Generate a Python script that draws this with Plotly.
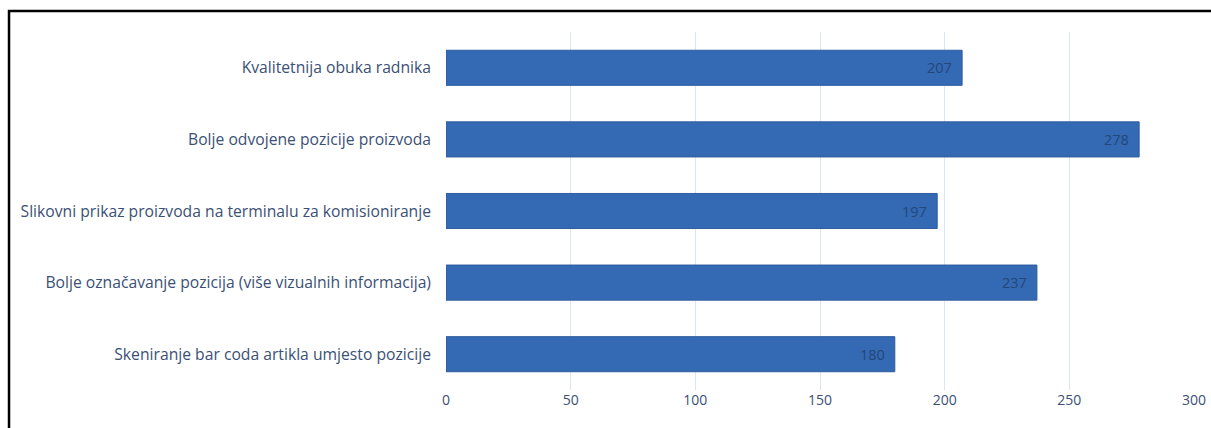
import plotly.graph_objects as go

categories = [
    'Skeniranje bar coda artikla umjesto pozicije',
    'Bolje označavanje pozicija (više vizualnih informacija)',
    'Slikovni prikaz proizvoda na terminalu za komisioniranje',
    'Bolje odvojene pozicije proizvoda',
    'Kvalitetnija obuka radnika',
]
values = [180, 237, 197, 278, 207]
x_ticks = [0, 50, 100, 150, 200, 250, 300]

text_color = '#3B5075'

fig = go.Figure()

fig.add_trace(go.Bar(
    x=values,
    y=categories,
    orientation='h',
    marker=dict(color='#3469B3', line=dict(color='#2E5C9E', width=1)),
    hovertemplate='%{y}: %{x}<extra></extra>'
))

# value labels sitting just inside the bar end
for cat, val in zip(categories, values):
    fig.add_annotation(
        x=val, y=cat, text=str(val), showarrow=False,
        xanchor='right', xshift=-8,
        font=dict(color='#24477A', size=14.5),
    )

fig.update_layout(
    width=1211,
    height=428,
    margin=dict(l=446, r=17, t=32, b=38),
    paper_bgcolor='white',
    plot_bgcolor='white',
    font=dict(family='Open Sans, Noto Sans, sans-serif', size=13, color=text_color),
    bargap=0.51,
    showlegend=False,
    xaxis=dict(
        range=[0, 300],
        tickvals=x_ticks,
        showgrid=True,
        gridcolor='#DCE6F2',
        gridwidth=1,
        zeroline=False,
        showline=False,
        tickfont=dict(size=14, color=text_color),
        ticks='',
        ticklabeloverflow='allow',
        automargin=False,
    ),
    yaxis=dict(
        showgrid=False,
        zeroline=False,
        showline=False,
        ticks='',
        ticklabelstandoff=14,
        tickfont=dict(size=15.7, color=text_color),
        automargin=False,
    ),
    shapes=[
        dict(type='rect', xref='paper', yref='paper',
             x0=-0.5842, x1=1.05, y0=-0.2, y1=1.0587,
             line=dict(color='black', width=2.5), fillcolor='rgba(0,0,0,0)', layer='below'),
    ],
)

# drop the default page margin so the figure fills the window exactly
fig.write_html('out.html', config={'displayModeBar': False},
               post_script="document.body.style.margin = '0';")
